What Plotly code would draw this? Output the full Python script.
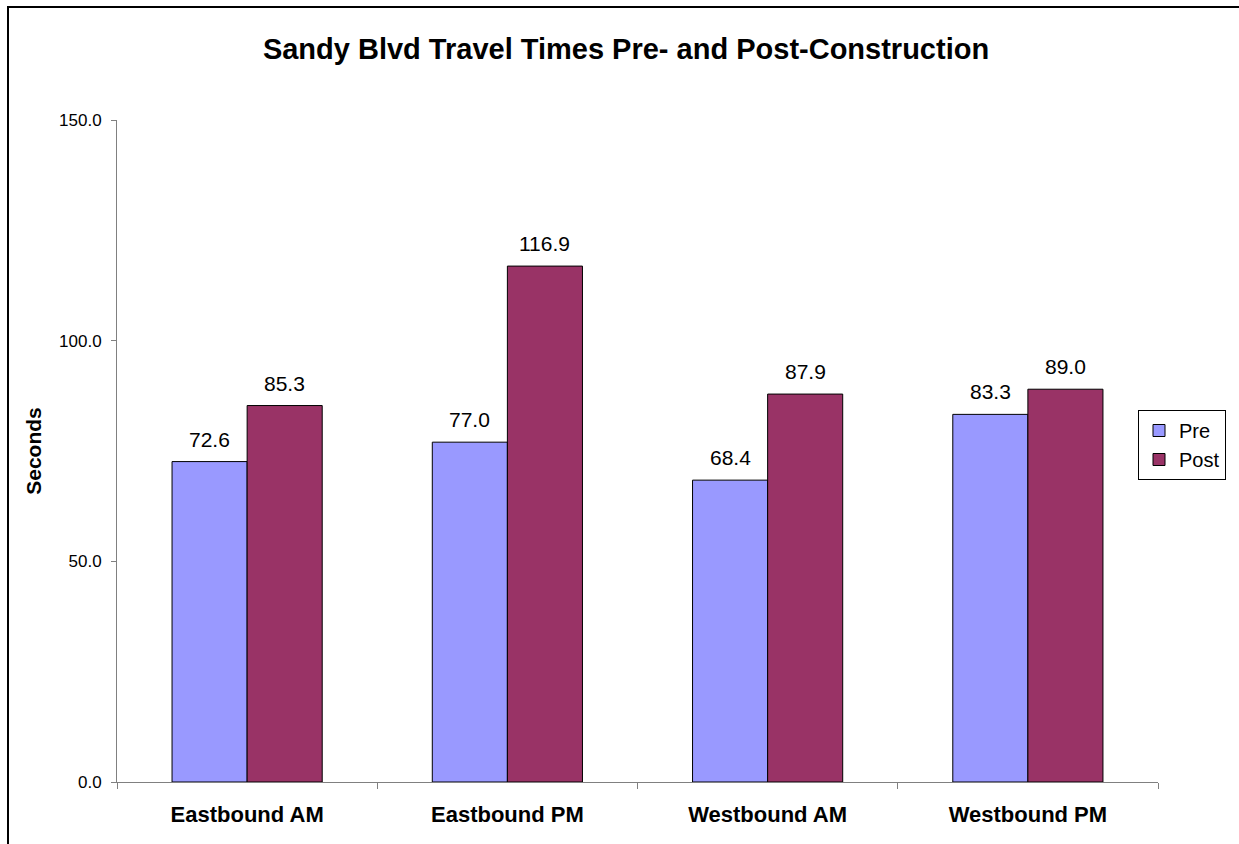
import plotly.graph_objects as go

# Travel time data (seconds)
categories = ["Eastbound AM", "Eastbound PM", "Westbound AM", "Westbound PM"]
pre_values = [72.6, 77.0, 68.4, 83.3]
post_values = [85.3, 116.9, 87.9, 89.0]
y_ticks = [0, 50, 100, 150]

PRE_COLOR = "#9999FF"
POST_COLOR = "#993366"
FONT = "Liberation Sans, Arial, sans-serif"

fig = go.Figure()
fig.add_trace(go.Bar(
    name="Pre", x=categories, y=pre_values,
    marker=dict(color=PRE_COLOR, line=dict(color="black", width=1)),
))
fig.add_trace(go.Bar(
    name="Post", x=categories, y=post_values,
    marker=dict(color=POST_COLOR, line=dict(color="black", width=1)),
))

# Value labels above each bar
annotations = []
for vals, shift in ((pre_values, -37.5), (post_values, 37.5)):
    for cat, v in zip(categories, vals):
        annotations.append(dict(
            x=cat, y=v, xref="x", yref="y", text=f"{v:.1f}",
            showarrow=False, xshift=shift, yanchor="bottom", yshift=9,
            font=dict(family=FONT, size=21, color="black"),
        ))

fig.update_layout(
    width=1239, height=844,
    margin=dict(l=117, r=81, t=120, b=62),
    paper_bgcolor="white", plot_bgcolor="white",
    barmode="group", bargap=0.423, bargroupgap=0,
    title=dict(
        text="<b>Sandy Blvd Travel Times Pre- and Post-Construction</b>",
        x=626 / 1239, xref="container", xanchor="center",
        y=1 - 49 / 844, yref="container", yanchor="middle",
        font=dict(family=FONT, size=29, color="black"),
    ),
    xaxis=dict(
        showline=True, linecolor="#808080", linewidth=1,
        ticks="outside", ticklen=6, tickcolor="#808080", tickson="boundaries",
        tickfont=dict(family=FONT, size=22, color="black"),
        tickprefix="<b>", ticksuffix="</b>", ticklabelstandoff=13,
        showgrid=False, zeroline=False,
    ),
    yaxis=dict(
        range=[0, 150], tickvals=y_ticks, tickformat=".1f",
        showline=True, linecolor="#808080", linewidth=1,
        ticks="outside", ticklen=5, tickcolor="#808080",
        tickfont=dict(family=FONT, size=17, color="black"),
        ticklabelstandoff=6,
        showgrid=False, zeroline=False,
        title=dict(text="<b>Seconds</b>", standoff=11,
                   font=dict(family=FONT, size=21, color="black")),
    ),
    legend=dict(
        x=(1138 - 117) / 1041, y=(782 - 410) / 662,
        xanchor="left", yanchor="top",
        bordercolor="black", borderwidth=1, bgcolor="white",
        font=dict(family=FONT, size=20, color="black"),
        itemwidth=30, tracegroupgap=0,
    ),
    annotations=annotations,
    shapes=[dict(
        type="rect", xref="paper", yref="paper",
        x0=(8 - 117) / 1041, x1=1.2, y0=-0.2, y1=(782 - 7) / 662,
        line=dict(color="black", width=2), fillcolor="rgba(0,0,0,0)",
        layer="below",
    )],
)

fig.write_html("out.html", config={"displayModeBar": False})
